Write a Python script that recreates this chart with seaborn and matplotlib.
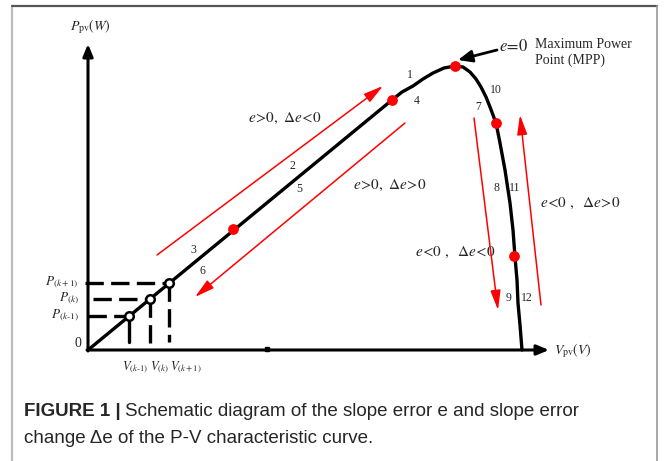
import matplotlib
matplotlib.use("Agg")
import matplotlib.pyplot as plt
import seaborn as sns
import pandas as pd

# P-V characteristic curve (voltage, power) in chart units
curve_v = [0, 304, 314, 325, 335, 345, 356, 367, 375, 382, 388, 393, 398, 402,
           405, 408, 412, 417, 422, 425, 427, 429, 430, 432, 434]
curve_p = [0, 250, 258, 264, 271, 277, 282, 284, 283, 278, 271, 263, 253, 243,
           235, 227, 207, 180, 147, 120, 93, 70, 47, 25, 0]

# highlighted operating points on the curve (MPP included)
red_v = [145, 304, 367, 408, 426]
red_p = [121, 250, 284, 227, 94]

# sampled points k-1, k, k+1
samp_v = [41, 62, 81]
samp_p = [34, 51, 67]
samp_p_labels = [r"$P_{(k\text{-}1)}$", r"$P_{(k)}$", r"$P_{(k+1)}$"]
samp_v_labels = [r"$V_{(k\text{-}1)}$", r"$V_{(k)}$", r"$V_{(k+1)}$"]

# segment numbers along the curve
seg_labels = ["1", "4", "2", "5", "3", "6", "10", "7", "8", "11", "9", "12"]
seg_v = [322, 329, 204, 211, 105, 114, 408, 390, 408, 427, 421, 439]
seg_p = [275, 249, 184, 161, 100, 79, 260, 243, 162, 162, 52, 52]

# region descriptions
region_text = [r"$e\!>\!0,\ \Delta e\!<\!0$", r"$e\!>\!0,\ \Delta e\!>\!0$",
               r"$e\!<\!0\ ,\ \ \Delta e\!>\!0$", r"$e\!<\!0\ ,\ \ \Delta e\!<\!0$"]
region_v = [160, 265, 452, 327]
region_p = [232, 165, 147, 98]

# direction arrows (start, end)
arrows = [((69, 95), (295, 264)),
          ((317, 227), (107, 53)),
          ((386, 232), (410, 40)),
          ((453, 45), (432, 235))]

sns.set_theme(style="white")
plt.rcParams["mathtext.fontset"] = "stix"
plt.rcParams["font.family"] = ["Liberation Serif", "DejaVu Serif"]

fig = plt.figure(figsize=(6.64, 4.61), dpi=100)
ax = fig.add_axes([0, 0, 1, 1])
ax.set_xlim(-88, 576)
ax.set_ylim(-111, 350)
ax.axis("off")

# outer frame
ax.plot([-76, -76], [344, -115], color="#bdbdbd", lw=1.6, clip_on=False)
ax.plot([-76, 569], [344, 344], color="#555555", lw=1.6)
ax.plot([569, 569], [344, -115], color="#9a9a9a", lw=1.2, clip_on=False)

# axes with arrow heads
axis_arrow = dict(arrowstyle="-|>,head_length=0.6,head_width=0.25", lw=2.2,
                  color="black", shrinkA=0, shrinkB=0, mutation_scale=12)
ax.annotate("", xy=(0, 306), xytext=(0, -1), arrowprops=axis_arrow)
ax.annotate("", xy=(461, 0), xytext=(-1, 0), arrowprops=axis_arrow)
ax.plot([179], [1], marker="s", ms=2.5, color="black")

ax.text(2, 323, r"$P_{\rm pv}(W)$", fontsize=10, ha="center", va="center")
ax.text(466, -1, r"$V_{\rm pv}(V)$", fontsize=10, ha="left", va="center")
ax.text(-10, 7, "0", fontsize=10, ha="center", va="center")

# dashed guides to the sampled points
dash = dict(color="black", lw=2.4, dashes=(5.5, 2.2))
ax.plot([-3, samp_v[2]], [samp_p[2], samp_p[2]], **dash)
ax.plot([5, samp_v[1]], [samp_p[1], samp_p[1]], **dash)
ax.plot([0, samp_v[0]], [samp_p[0], samp_p[0]], **dash)
ax.plot([samp_v[0], samp_v[0]], [samp_p[0], 8], color="black", lw=2.4)
ax.plot([samp_v[1], samp_v[1]], [samp_p[1], 0], **dash)
ax.plot([samp_v[2], samp_v[2]], [samp_p[2], 8], **dash)

# characteristic curve
df = pd.DataFrame({"V": curve_v, "P": curve_p})
sns.lineplot(data=df, x="V", y="P", sort=False, color="black", lw=2.4, ax=ax)

# sampled points as open circles
sns.scatterplot(x=samp_v, y=samp_p, s=38, color="white", edgecolor="black",
                linewidth=1.8, zorder=5, ax=ax)
# highlighted operating points
sns.scatterplot(x=red_v, y=red_p, s=60, color="#ff0000", edgecolor="#ff0000",
                linewidth=0, zorder=5, ax=ax)

for lab, p in zip(samp_p_labels, samp_p):
    ax.text(-9, p + 1, lab, fontsize=9.5, ha="right", va="center")

# voltage labels laid out side by side under the sampled points
fig.canvas.draw()
renderer = fig.canvas.get_renderer()
inv = ax.transData.inverted()
x_next = 34
for lab in samp_v_labels:
    t = ax.text(x_next, -17, lab, fontsize=9, ha="left", va="center")
    ext = t.get_window_extent(renderer)
    x_next = inv.transform((ext.x1, ext.y0))[0] + 1.5

for lab, v, p in zip(seg_labels, seg_v, seg_p):
    ax.text(v, p, lab, fontsize=8.5, ha="center", va="center")

for txt, v, p in zip(region_text, region_v, region_p):
    ax.text(v, p, txt, fontsize=11, ha="left", va="center")

red_arrow = dict(arrowstyle="-|>,head_length=0.85,head_width=0.22", lw=1.1,
                 color="#ff0000", shrinkA=0, shrinkB=0, mutation_scale=14)
for (sv, sp), (ev, ep) in arrows:
    ax.annotate("", xy=(ev, ep), xytext=(sv, sp), arrowprops=red_arrow)

# MPP pointer
ax.annotate("", xy=(370, 290), xytext=(409, 300),
            arrowprops=dict(arrowstyle="-|>,head_length=0.7,head_width=0.3",
                            lw=2.0, color="black", shrinkA=0, shrinkB=0,
                            mutation_scale=12))
ax.text(411, 303, r"$e\!=\!0$", fontsize=12, ha="left", va="center")
ax.text(447, 306, "Maximum Power", fontsize=10, ha="left", va="center")
ax.text(447, 290, "Point (MPP)", fontsize=10, ha="left", va="center")

# caption
cap_font = ["Liberation Sans", "DejaVu Sans"]
t1 = ax.text(-64, -66, "FIGURE 1 |", fontsize=13.5, fontweight="bold",
             family=cap_font, ha="left", va="baseline")
fig.canvas.draw()
bb = t1.get_window_extent()
x_end = ax.transData.inverted().transform((bb.x1, bb.y0))[0]
ax.text(x_end + 4, -66, "Schematic diagram of the slope error e and slope error",
        fontsize=13.5, family=cap_font, ha="left", va="baseline")
ax.text(-64, -93, "change \u0394e of the P-V characteristic curve.",
        fontsize=13.5, family=cap_font, ha="left", va="baseline")

fig.savefig("out.png", dpi=100)
